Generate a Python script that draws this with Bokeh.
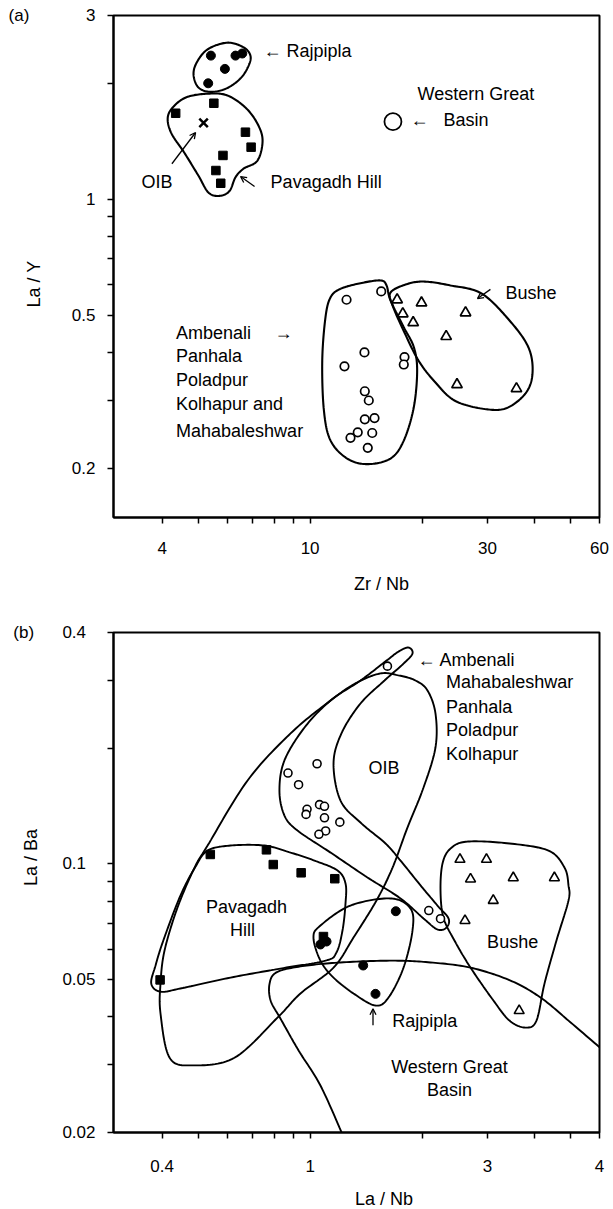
import numpy as np
from bokeh.plotting import figure
from bokeh.models import Range1d, FixedTicker, Label, Arrow, OpenHead
from bokeh.layouts import column
from bokeh.embed import file_html
from bokeh.resources import INLINE

FONT = "Liberation Sans"
NB = "\u00a0"

# ---------------- Panel (a): La/Y vs Zr/Nb ----------------
raj_a_x = [5.41, 6.30, 6.57, 5.90, 5.32]
raj_a_y = [2.36, 2.36, 2.39, 2.18, 2.00]
pav_a_x = [5.51, 4.35, 6.70, 6.94, 5.83, 5.58, 5.75]
pav_a_y = [1.775, 1.672, 1.493, 1.365, 1.299, 1.187, 1.100]
oib_a_x = [5.17]
oib_a_y = [1.579]
wgb_a_x = [16.7]
wgb_a_y = [1.59]
amb_a_x = [12.53, 15.53, 14.00, 12.37, 17.94, 17.86, 14.03, 14.38, 14.03, 14.90, 13.43, 12.84, 14.69, 14.29]
amb_a_y = [0.548, 0.576, 0.400, 0.368, 0.389, 0.372, 0.317, 0.300, 0.268, 0.270, 0.248, 0.240, 0.247, 0.226]
bus_a_x = [17.14, 19.93, 17.75, 18.93, 26.18, 23.22, 24.83, 35.88]
bus_a_y = [0.548, 0.538, 0.504, 0.478, 0.507, 0.440, 0.330, 0.322]

# field envelopes (a)
env_raj_a_x = [5.99, 6.62, 6.91, 6.83, 6.50, 5.96, 5.40, 5.01, 4.86, 4.95, 5.30]
env_raj_a_y = [2.55, 2.48, 2.36, 2.22, 2.06, 1.94, 1.90, 1.95, 2.10, 2.26, 2.45]
env_pav_a_x = [5.33, 5.99, 6.70, 7.22, 7.45, 7.22, 6.62, 6.30, 6.07, 5.71, 5.33, 5.01, 4.59, 4.24, 4.14, 4.27, 4.65]
env_pav_a_y = [1.88, 1.86, 1.73, 1.57, 1.42, 1.26, 1.20, 1.14, 1.05, 1.02, 1.04, 1.15, 1.32, 1.48, 1.62, 1.73, 1.84]
env_amb_a_x = [12.07, 13.66, 15.46, 16.05, 16.45, 17.86, 19.00, 19.40, 19.00, 17.86, 16.45, 14.24, 12.58, 11.35, 10.89, 10.78, 11.00, 11.35]
env_amb_a_y = [0.585, 0.605, 0.615, 0.597, 0.546, 0.465, 0.413, 0.359, 0.288, 0.236, 0.212, 0.205, 0.212, 0.236, 0.283, 0.381, 0.494, 0.556]
env_bus_a_x = [16.45, 18.05, 20.18, 23.85, 28.89, 34.37, 38.65, 39.63, 37.95, 33.52, 28.89, 24.44, 21.73, 19.56, 17.83, 16.66]
env_bus_a_y = [0.572, 0.600, 0.611, 0.597, 0.569, 0.484, 0.412, 0.353, 0.313, 0.286, 0.286, 0.300, 0.334, 0.381, 0.456, 0.530]

# ---------------- Panel (b): La/Ba vs La/Nb ----------------
amb_b_x = [1.614, 0.872, 0.931, 1.044, 0.981, 0.975, 1.060, 1.093, 1.093, 1.202, 1.101, 1.056, 2.085, 2.242]
amb_b_y = [0.327, 0.1723, 0.1607, 0.1822, 0.1387, 0.1345, 0.1426, 0.1412, 0.1318, 0.1284, 0.1218, 0.1194, 0.0756, 0.0720]
pav_b_x = [0.539, 0.763, 0.796, 0.946, 1.165, 0.395, 1.086]
pav_b_y = [0.1058, 0.1088, 0.0996, 0.0948, 0.0915, 0.0499, 0.0647]
raj_b_x = [1.700, 1.389, 1.499, 1.066, 1.107]
raj_b_y = [0.0753, 0.0544, 0.0459, 0.0617, 0.0628]
bus_b_x = [2.529, 2.980, 2.700, 3.518, 4.538, 3.108, 2.609, 3.649]
bus_b_y = [0.1027, 0.1027, 0.0913, 0.0920, 0.0920, 0.0803, 0.0712, 0.0415]

env_amb_b_x = [1.838, 1.885, 1.783, 1.585, 1.366, 1.214, 1.156, 1.207, 1.366, 1.595, 1.750, 1.981, 2.200, 2.356, 2.327,
               2.200, 2.018, 1.750, 1.426, 1.135, 0.925, 0.853, 0.827, 0.853, 0.966, 1.135, 1.366, 1.605, 1.729]
env_amb_b_y = [0.3656, 0.3527, 0.332, 0.300, 0.2614, 0.2185, 0.1825, 0.1461, 0.1281, 0.1130, 0.1020, 0.0879, 0.0779, 0.0721, 0.0683,
               0.0675, 0.0721, 0.0813, 0.0922, 0.1070, 0.1221, 0.1336, 0.1552, 0.1858, 0.2264, 0.2661, 0.300, 0.338, 0.3568]
env_oib_b_x = [1.739, 1.920, 2.068, 2.173, 2.173, 2.018, 1.827, 1.666, 1.508, 1.308, 1.156, 0.942, 0.817, 0.626, 0.483, 0.419,
               0.396, 0.396, 0.406, 0.440, 0.489, 0.530, 0.679, 0.886, 1.135, 1.324, 1.546]
env_oib_b_y = [0.309, 0.300, 0.2827, 0.2463, 0.2008, 0.1580, 0.1243, 0.0978, 0.0803, 0.0643, 0.0537, 0.0460, 0.0398, 0.0313, 0.0299, 0.0313,
               0.0408, 0.0488, 0.0595, 0.0770, 0.0978, 0.1116, 0.1648, 0.2185, 0.2661, 0.2948, 0.313]
env_pav_b_x = [0.530, 0.611, 0.754, 0.886, 1.027, 1.185, 1.245, 1.245, 1.222, 1.177, 1.100, 0.832, 0.611, 0.448, 0.396, 0.374, 0.384, 0.403, 0.448, 0.492]
env_pav_b_y = [0.1083, 0.1116, 0.1116, 0.1070, 0.1020, 0.0961, 0.0889, 0.0789, 0.0671, 0.0588, 0.0560, 0.0534, 0.0506, 0.0474, 0.0465, 0.0488, 0.0544, 0.0632, 0.0827, 0.0984]
env_raj_b_x = [1.021, 1.066, 1.284, 1.645, 1.862, 1.885, 1.783, 1.625, 1.499, 1.308, 1.156, 1.066]
env_raj_b_y = [0.0643, 0.0691, 0.0779, 0.0813, 0.0765, 0.0671, 0.0537, 0.0449, 0.0428, 0.0460, 0.0506, 0.0560]
env_bus_b_x = [2.270, 2.385, 2.649, 3.437, 4.375, 4.831, 4.952, 4.952, 4.597, 4.268, 4.061, 3.795, 3.437, 3.111, 2.700, 2.444, 2.283, 2.242]
env_bus_b_y = [0.1002, 0.1096, 0.1143, 0.1130, 0.1083, 0.0978, 0.0879, 0.0803, 0.0632, 0.0488, 0.0391, 0.0375, 0.0391, 0.0441, 0.0537, 0.0632, 0.0725, 0.0853]
env_wgb_b_x = [1.222, 1.066, 0.931, 0.832, 0.783, 0.778, 0.812, 0.942, 1.207, 1.666, 2.107, 2.700, 3.458, 4.164, 4.952, 6.23]
env_wgb_b_y = [0.01976, 0.0265, 0.0327, 0.0396, 0.0441, 0.0488, 0.0522, 0.0541, 0.0554, 0.0560, 0.0554, 0.0537, 0.0497, 0.0449, 0.0391, 0.0323]

# axis ticks and labels
xa_major = [4, 10, 30, 60]
xa_minor = [5, 6, 7, 8, 9, 20, 40, 50]
xa_labels = {4: "4", 10: "10", 30: "30", 60: "60"}
ya_major = [0.2, 0.5, 1, 3]
ya_minor = [0.3, 0.4, 0.6, 0.7, 0.8, 0.9, 2]
ya_labels = {0.2: "0.2", 0.5: "0.5", 1: "1", 3: "(a)" + NB * 12 + "3"}
xb_major = [0.4, 1, 3, 6]
xb_minor = [0.5, 0.6, 0.7, 0.8, 0.9, 2, 4, 5]
xb_labels = {0.4: "0.4", 1: "1", 3: "3", 6: "4"}
yb_major = [0.02, 0.05, 0.1, 0.4]
yb_minor = [0.03, 0.04, 0.06, 0.07, 0.08, 0.09, 0.2, 0.3]
yb_labels = {0.02: "0.02", 0.05: "0.05", 0.1: "0.1\u2007", 0.4: "(b)" + NB * 6 + "0.4\u2007"}

xa_title = NB * 10 + "Zr / Nb"
ya_title = "La / Y" + NB * 7
xb_title = NB * 11 + "La / Nb"
yb_title = NB * 10 + "La / Ba"


def smooth(xs, ys, closed=True, n=16):
    P = np.column_stack([np.log10(np.asarray(xs, float)), np.log10(np.asarray(ys, float))])
    if closed:
        P = np.vstack([P[-1], P, P[0], P[1]])
    else:
        P = np.vstack([P[0], P, P[-1]])
    t = np.linspace(0, 1, n, endpoint=False)[:, None]
    out = []
    for i in range(1, len(P) - 2):
        p0, p1, p2, p3 = P[i - 1], P[i], P[i + 1], P[i + 2]
        out.append(0.5 * (2 * p1 + (-p0 + p2) * t + (2 * p0 - 5 * p1 + 4 * p2 - p3) * t ** 2
                          + (-p0 + 3 * p1 - 3 * p2 + p3) * t ** 3))
    out.append(P[-2][None, :])
    out = np.vstack(out)
    return 10 ** out[:, 0], 10 ** out[:, 1]


def make_fig(xr, yr, top, fh, bottom, xt, xm, xl, yt, ym, yl, xstand, ystand,
             xtitle, ytitle, xts, yts):
    p = figure(x_axis_type="log", y_axis_type="log",
               x_range=Range1d(*xr), y_range=Range1d(*yr),
               frame_width=486, frame_height=fh,
               min_border_left=113, min_border_right=14,
               min_border_top=top, min_border_bottom=bottom,
               toolbar_location=None, output_backend="svg")
    p.grid.visible = False
    p.background_fill_color = "white"
    p.border_fill_color = "white"
    p.outline_line_color = "black"
    p.outline_line_width = 2
    xa, ya = p.xaxis[0], p.yaxis[0]
    xa.ticker = FixedTicker(ticks=xt, minor_ticks=xm)
    ya.ticker = FixedTicker(ticks=yt, minor_ticks=ym)
    xa.major_label_overrides = xl
    ya.major_label_overrides = yl
    xa.major_label_standoff = xstand
    ya.major_label_standoff = ystand
    xa.axis_label = xtitle
    ya.axis_label = ytitle
    xa.axis_label_standoff = xts
    ya.axis_label_standoff = yts
    for ax in (xa, ya):
        ax.axis_line_width = 2
        ax.axis_line_color = "black"
        ax.major_tick_in = 0
        ax.major_tick_out = 6
        ax.minor_tick_in = 0
        ax.minor_tick_out = 6
        ax.major_tick_line_width = 1.5
        ax.minor_tick_line_width = 1.5
        ax.major_tick_line_color = "black"
        ax.minor_tick_line_color = "black"
        ax.major_label_text_font = FONT
        ax.major_label_text_font_size = "17px"
        ax.major_label_text_color = "black"
        ax.axis_label_text_font = FONT
        ax.axis_label_text_font_size = "18px"
        ax.axis_label_text_font_style = "normal"
        ax.axis_label_text_color = "black"
    return p


def txt(p, x, y, s, align="left", size="18px"):
    p.add_layout(Label(x=x, y=y, text=s, text_font=FONT, text_font_size=size,
                       text_color="black", text_align=align, text_baseline="middle"))


def arrow(p, x0, y0, x1, y1):
    p.add_layout(Arrow(end=OpenHead(size=6, line_width=1.3, line_color="black"),
                       x_start=x0, y_start=y0, x_end=x1, y_end=y1,
                       line_width=1.3, line_color="black"))


def env(p, xs, ys, closed=True, w=2.0):
    sx, sy = smooth(xs, ys, closed)
    p.line(sx, sy, line_color="black", line_width=w)


# ---------- figure (a) ----------
pa = make_fig((2.96, 60), (0.149, 3), 15, 502, 83,
              xa_major, xa_minor, xa_labels, ya_major, ya_minor, ya_labels, 18, 12,
              xa_title, ya_title, 17, -38)
for ex, ey in [(env_raj_a_x, env_raj_a_y), (env_pav_a_x, env_pav_a_y),
               (env_amb_a_x, env_amb_a_y), (env_bus_a_x, env_bus_a_y)]:
    env(pa, ex, ey, w=2.1)
pa.scatter(raj_a_x, raj_a_y, marker="circle", size=9, fill_color="black", line_color="black")
pa.scatter(pav_a_x, pav_a_y, marker="square", size=8.5, fill_color="black", line_color="black")
pa.scatter(oib_a_x, oib_a_y, marker="x", size=12, line_color="black", line_width=2.5)
pa.scatter(wgb_a_x, wgb_a_y, marker="circle", size=17, fill_color="white", line_color="black", line_width=1.8)
pa.scatter(amb_a_x, amb_a_y, marker="circle", size=8.5, fill_color="white", line_color="black", line_width=1.7)
pa.scatter(bus_a_x, bus_a_y, marker="triangle", size=10.5, fill_color="white", line_color="black", line_width=1.7)

txt(pa, 7.49, 2.419, "\u2190 Rajpipla")
txt(pa, 19.44, 1.878, "Western Great")
txt(pa, 18.62, 1.601, "\u2190")
txt(pa, 22.83, 1.601, "Basin")
txt(pa, 3.52, 1.105, "OIB")
arrow(pa, 4.25, 1.236, 4.92, 1.490)
txt(pa, 7.83, 1.105, "Pavagadh Hill")
arrow(pa, 7.09, 1.079, 6.50, 1.145)
txt(pa, 33.52, 0.572, "Bushe")
arrow(pa, 30.54, 0.583, 28.19, 0.552)
txt(pa, 4.36, 0.4486, "Ambenali")
txt(pa, 8.02, 0.4486, "\u2192")
txt(pa, 4.36, 0.3903, "Panhala")
txt(pa, 4.36, 0.3395, "Poladpur")
txt(pa, 4.36, 0.2941, "Kolhapur and")
txt(pa, 4.36, 0.2506, "Mahabaleshwar")

# ---------- figure (b) ----------
pb = make_fig((0.296, 6), (0.02, 0.4), 32, 500, 77,
              xb_major, xb_minor, xb_labels, yb_major, yb_minor, yb_labels, 21, 12,
              xb_title, yb_title, 14, -31)
for ex, ey in [(env_amb_b_x, env_amb_b_y), (env_oib_b_x, env_oib_b_y), (env_pav_b_x, env_pav_b_y),
               (env_raj_b_x, env_raj_b_y), (env_bus_b_x, env_bus_b_y)]:
    env(pb, ex, ey, w=1.9)
env(pb, env_wgb_b_x, env_wgb_b_y, closed=False, w=1.9)
pb.scatter(pav_b_x, pav_b_y, marker="square", size=8.5, fill_color="black", line_color="black")
pb.scatter(raj_b_x, raj_b_y, marker="circle", size=9, fill_color="black", line_color="black")
pb.scatter(amb_b_x, amb_b_y, marker="circle", size=8, fill_color="white", line_color="black", line_width=1.6)
pb.scatter(bus_b_x, bus_b_y, marker="triangle", size=10, fill_color="white", line_color="black", line_width=1.6)

txt(pb, 1.944, 0.340, "\u2190 Ambenali")
txt(pb, 2.321, 0.297, "Mahabaleshwar")
txt(pb, 2.321, 0.2567, "Panhala")
txt(pb, 2.321, 0.2224, "Poladpur")
txt(pb, 2.321, 0.1926, "Kolhapur")
txt(pb, 1.436, 0.1771, "OIB")
txt(pb, 0.6746, 0.0771, "Pavagadh", align="center")
txt(pb, 0.658, 0.0674, "Hill", align="center")
txt(pb, 2.992, 0.0625, "Bushe")
arrow(pb, 1.476, 0.0380, 1.476, 0.0420)
txt(pb, 1.662, 0.0391, "Rajpipla")
txt(pb, 2.370, 0.02958, "Western Great", align="center")
txt(pb, 2.370, 0.02582, "Basin", align="center")

layout = column(pa, pb, spacing=0)
open("out.html", "w").write(file_html(layout, INLINE))
